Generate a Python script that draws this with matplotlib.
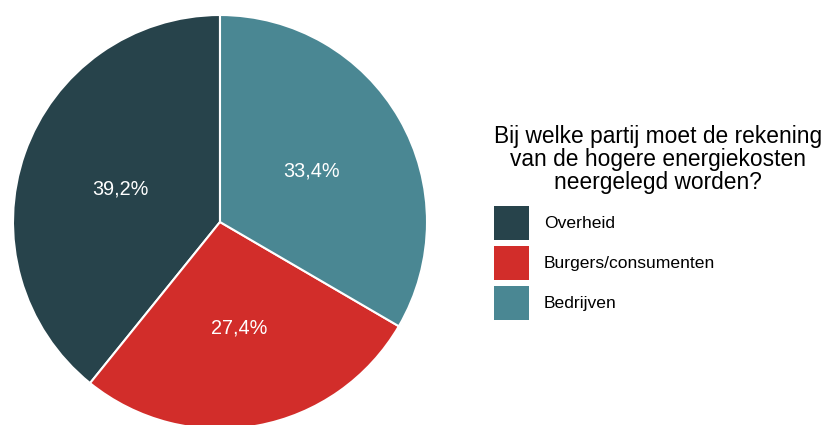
import matplotlib
matplotlib.use("Agg")
import matplotlib.pyplot as plt
from matplotlib.patches import Patch

plt.rcParams['font.family'] = ['Liberation Sans', 'DejaVu Sans']

categories = ["Overheid", "Burgers/consumenten", "Bedrijven"]
values = [39.2, 27.4, 33.4]
colors = ["#27434b", "#d22d2a", "#4a8793"]
legend_title = "Bij welke partij moet de rekening\nvan de hogere energiekosten\nneergelegd worden?"

W, H = 829, 425
fig = plt.figure(figsize=(W / 100, H / 100), dpi=100)
cx, cy, r = 220, 425 - 222, 207
ax = fig.add_axes([(cx - r) / W, (cy - r) / H, 2 * r / W, 2 * r / H])

wedges, texts, autotexts = ax.pie(
    values, colors=colors, startangle=90, counterclock=True, radius=1,
    autopct=lambda p: f"{p:.1f}%".replace('.', ','), pctdistance=0.51,
    wedgeprops=dict(edgecolor='white', linewidth=1.5),
    textprops=dict(color='white', fontsize=14.3))
for t in autotexts:
    t.set_va('center_baseline')
ax.set_xlim(-1, 1)
ax.set_ylim(-1, 1)
ax.set_aspect('equal')
ax.axis('off')

handles = [Patch(facecolor=c, edgecolor='none') for c in colors]
leg = fig.legend(handles, categories, title=legend_title, loc='center',
                 bbox_to_anchor=(658 / W, 1 - 222.5 / H), frameon=False,
                 fontsize=12.6, title_fontsize=16.4,
                 handlelength=2.0, handleheight=2.61, labelspacing=0.34,
                 handletextpad=0.86, alignment='left')
leg.get_title().set_multialignment('center')
leg.get_title().set_linespacing(1.0)
leg._legend_box.sep = leg._legend_box.sep + 4

fig.savefig("out.png", dpi=100, facecolor='white')
